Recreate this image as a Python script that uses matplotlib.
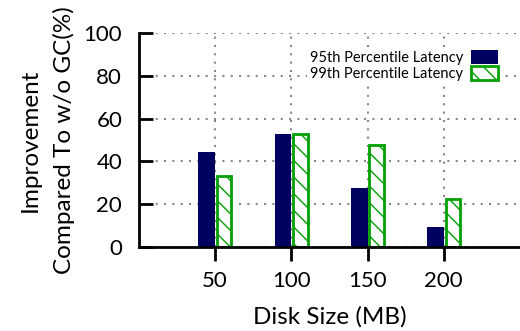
import matplotlib
matplotlib.use('Agg')
import matplotlib.pyplot as plt
import numpy as np

# disk size vs. latency improvement
disk_sizes = [50, 100, 150, 200]
p95_improvement = [44.4, 52.8, 27.4, 9.2]
p99_improvement = [33.3, 53.0, 47.7, 22.4]
y_ticks = [0, 20, 40, 60, 80, 100]

plt.rcParams['font.family'] = ['Lato', 'DejaVu Sans']
plt.rcParams['hatch.linewidth'] = 1.0

fig = plt.figure(figsize=(5.2, 3.31), dpi=100)
ax = fig.add_axes([0.267, 0.254, 0.733, 0.646])

x = np.array(disk_sizes)
w = 11
ax.bar(x - w/2, p95_improvement, width=w, color='#000060', edgecolor='#000060',
       linewidth=0, label='95th Percentile Latency', zorder=3)
ax.bar(x + w/2 + 0.5, p99_improvement, width=w - 1.5, color='white', edgecolor='#00a000',
       linewidth=2, hatch='\\\\', label='99th Percentile Latency', zorder=3)

ax.set_xlim(0, 250)
ax.set_ylim(0, 100)
ax.set_xticks(disk_sizes)
ax.set_yticks(y_ticks)
ax.grid(True, linestyle=(0, (1, 3)), color='#888888', linewidth=1.5, zorder=0)

for s in ['top', 'right']:
    ax.spines[s].set_visible(False)
ax.spines['left'].set_linewidth(2)
ax.spines['bottom'].set_linewidth(2)
ax.spines['left'].set_zorder(4)
ax.spines['bottom'].set_zorder(4)

ax.tick_params(axis='y', direction='in', length=10, width=2, labelsize=16, pad=12)
ax.tick_params(axis='x', direction='out', length=10, width=2, labelsize=16, pad=7)

ax.set_xlabel('Disk Size (MB)', fontsize=17.5, labelpad=11)
ax.set_ylabel('Improvement\nCompared To w/o GC(%)', fontsize=17.5, labelpad=6,
              linespacing=1.7)

leg = ax.legend(loc='upper right', bbox_to_anchor=(0.97, 0.97), markerfirst=False,
                frameon=True, fontsize=10.5, handlelength=1.9, handleheight=1.1,
                borderpad=0.2, labelspacing=0.1, handletextpad=0.5, fancybox=False)
leg.get_frame().set_edgecolor('none')
leg.get_frame().set_facecolor('white')
leg.get_frame().set_alpha(1)
leg.set_zorder(5)

fig.savefig('out.png', dpi=100)
